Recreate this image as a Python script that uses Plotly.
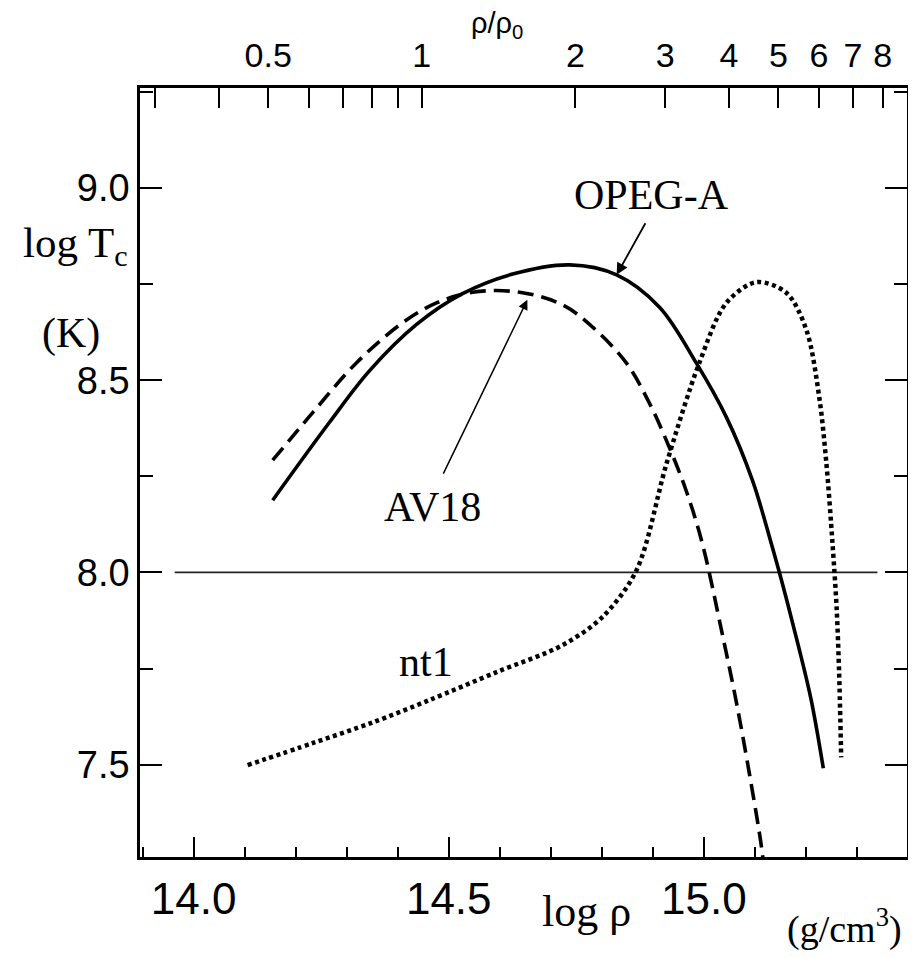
import math
import plotly.graph_objects as go

# ---------------- data ----------------
opeg_logrho = [14.155, 14.266, 14.345, 14.437, 14.527, 14.625, 14.737, 14.829, 14.913,
               14.985, 15.044, 15.095, 15.134, 15.160, 15.185, 15.210, 15.234]
opeg_logT = [8.188, 8.390, 8.525, 8.645, 8.725, 8.776, 8.800, 8.774, 8.690,
             8.545, 8.404, 8.240, 8.066, 7.940, 7.810, 7.670, 7.491]

av18_logrho = [14.155, 14.233, 14.319, 14.409, 14.476, 14.547, 14.639, 14.723, 14.782,
               14.848, 14.893, 14.932, 14.966, 14.997, 15.036, 15.064, 15.089, 15.113, 15.118]
av18_logT = [8.292, 8.415, 8.545, 8.649, 8.701, 8.729, 8.729, 8.696, 8.638,
             8.545, 8.441, 8.326, 8.210, 8.075, 7.840, 7.660, 7.478, 7.285, 7.225]

nt1_logrho = [14.106, 14.233, 14.351, 14.462, 14.594, 14.723, 14.801, 14.868, 14.927,
              14.991, 15.044, 15.103, 15.162, 15.201, 15.226, 15.240, 15.252, 15.260,
              15.265, 15.269]
nt1_logT = [7.499, 7.556, 7.610, 7.668, 7.741, 7.811, 7.884, 8.006, 8.284,
            8.545, 8.701, 8.755, 8.727, 8.630, 8.456, 8.284, 8.076, 7.910,
            7.738, 7.519]

ref_logrho = [13.963, 15.34]
ref_logT = [8.0, 8.0]

rho0 = 2.8e14  # g/cm^3
top_ratio_ticks = [0.3, 0.4, 0.5, 0.6, 0.7, 0.8, 0.9, 1, 2, 3, 4, 5, 6, 7, 8]
top_ratio_labels = ["", "", "0.5", "", "", "", "", "1", "2", "3", "4", "5", "6", "7", "8"]

x_tick_vals = [14.0, 14.5, 15.0]
x_tick_text = ["14.0", "14.5", "15.0"]
y_tick_vals = [7.5, 8.0, 8.5, 9.0]
y_tick_text = ["7.5", "8.0", "8.5", "9.0"]

x_range = [13.895, 15.398]
y_range = [7.26, 9.26]

# ---------------- figure ----------------
fig = go.Figure()

fig.add_trace(go.Scatter(x=ref_logrho, y=ref_logT, mode="lines",
                         line=dict(color="#222222", width=1.8), hoverinfo="skip"))
fig.add_trace(go.Scatter(x=opeg_logrho, y=opeg_logT, mode="lines", name="OPEG-A",
                         line=dict(color="black", width=3.6, shape="spline", smoothing=1.0)))
fig.add_trace(go.Scatter(x=av18_logrho, y=av18_logT, mode="lines", name="AV18",
                         line=dict(color="black", width=3.6, dash="16px,8px",
                                   shape="spline", smoothing=1.0)))
fig.add_trace(go.Scatter(x=nt1_logrho, y=nt1_logT, mode="lines", name="nt1",
                         line=dict(color="black", width=4.5, dash="4px,3.5px",
                                   shape="spline", smoothing=0.9)))
# dummy trace so the top (rho/rho0) axis is drawn
fig.add_trace(go.Scatter(x=[None], y=[None], xaxis="x2", showlegend=False, hoverinfo="skip"))

serif = "Liberation Serif, Times New Roman, serif"
sans = "Liberation Sans, Arial, sans-serif"

# the page body adds an 8px offset, so the figure is made 8px smaller
fig.update_layout(
    width=908, height=950,
    margin=dict(l=132, r=9, t=80, b=101, autoexpand=False),
    paper_bgcolor="white", plot_bgcolor="white",
    showlegend=False,
    xaxis=dict(range=x_range, tickvals=x_tick_vals, ticktext=x_tick_text,
               ticks="inside", ticklen=20, tickwidth=1.8, tickcolor="black",
               minor=dict(dtick=0.1, tick0=14.0, ticks="inside", ticklen=10,
                          tickwidth=1.6, tickcolor="black", showgrid=False),
               showline=True, linecolor="black", linewidth=2.5, mirror=True,
               showgrid=False, zeroline=False, ticklabelstandoff=1,
               tickfont=dict(family=sans, size=44, color="black")),
    xaxis2=dict(range=x_range, overlaying="x", side="top", anchor="y",
                tickvals=[math.log10(v * rho0) for v in top_ratio_ticks],
                ticktext=top_ratio_labels,
                ticks="inside", ticklen=20, tickwidth=1.8, tickcolor="black",
                showline=False, showgrid=False, zeroline=False, ticklabelstandoff=13,
                tickfont=dict(family=sans, size=34, color="black")),
    yaxis=dict(range=y_range, tickvals=y_tick_vals, ticktext=y_tick_text,
               ticks="inside", ticklen=22, tickwidth=1.8, tickcolor="black",
               minor=dict(dtick=0.25, tick0=7.5, ticks="inside", ticklen=13,
                          tickwidth=1.6, tickcolor="black", showgrid=False),
               showline=True, linecolor="black", linewidth=2.5, mirror="ticks",
               showgrid=False, zeroline=False, ticklabelstandoff=0,
               tickfont=dict(family=sans, size=38, color="black")),
)

# curve labels and arrows
for txt, xv, yv in [("OPEG-A", 14.897, 8.982), ("AV18", 14.468, 8.170), ("nt1", 14.456, 7.767)]:
    fig.add_annotation(x=xv, y=yv, xref="x", yref="y", text=txt, showarrow=False,
                       xanchor="center", yanchor="middle",
                       font=dict(family=serif, size=42, color="black"))

fig.add_annotation(x=14.829, y=8.774, ax=14.887, ay=8.912, xref="x", yref="y",
                   axref="x", ayref="y", text="", showarrow=True,
                   arrowhead=2, arrowsize=1.3, arrowwidth=1.8, arrowcolor="black")
fig.add_annotation(x=14.654, y=8.709, ax=14.488, ay=8.253, xref="x", yref="y",
                   axref="x", ayref="y", text="", showarrow=True,
                   arrowhead=2, arrowsize=1.3, arrowwidth=1.5, arrowcolor="black")

# axis titles
titles = [
    ("log T<sub>c</sub>", -0.0847, 0.795, serif, 43),
    ("(K)", -0.0900, 0.681, serif, 42),
    ("ρ/ρ<sub>0</sub>", 0.4655, 1.082, sans, 29),
    ("log ρ", 0.5815, -0.0715, serif, 44),
    ("(g/cm<sup>3</sup>)", 0.919, -0.0900, serif, 38),
]
for txt, xp, yp, fam, sz in titles:
    fig.add_annotation(x=xp, y=yp, xref="paper", yref="paper", showarrow=False,
                       xanchor="center", yanchor="middle", text=txt,
                       font=dict(family=fam, size=sz, color="black"))

fig.write_html("out.html")
